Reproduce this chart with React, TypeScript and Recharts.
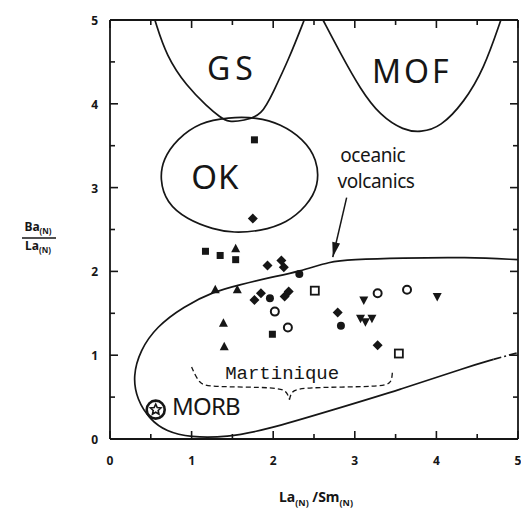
import { ComposedChart, XAxis, YAxis, Line, Scatter, ReferenceDot } from 'recharts'

const INK = '#161616'
const SANS = '"Noto Sans", "DejaVu Sans", sans-serif'

const X_DOMAIN = [0, 5]
const Y_DOMAIN = [0, 5]
const TICKS = [0, 0.5, 1, 1.5, 2, 2.5, 3, 3.5, 4, 4.5, 5]

// field outlines (La/Sm, Ba/La)
const GS_FIELD = [
  { x: 0.55, y: 5.0 }, { x: 0.69, y: 4.57 }, { x: 0.94, y: 4.21 }, { x: 1.19, y: 3.97 },
  { x: 1.35, y: 3.84 }, { x: 1.45, y: 3.78 }, { x: 1.64, y: 3.8 }, { x: 1.86, y: 3.86 },
  { x: 2.0, y: 4.14 }, { x: 2.19, y: 4.53 }, { x: 2.38, y: 5.0 },
]
const MOF_FIELD = [
  { x: 2.61, y: 5.0 }, { x: 2.82, y: 4.61 }, { x: 3.07, y: 4.17 }, { x: 3.31, y: 3.86 },
  { x: 3.6, y: 3.68 }, { x: 3.81, y: 3.66 }, { x: 4.05, y: 3.72 }, { x: 4.34, y: 4.02 },
  { x: 4.58, y: 4.41 }, { x: 4.79, y: 5.0 },
]
const OK_FIELD = [
  { x: 1.45, y: 3.84 }, { x: 1.1, y: 3.78 }, { x: 0.82, y: 3.58 }, { x: 0.65, y: 3.34 },
  { x: 0.61, y: 3.1 }, { x: 0.69, y: 2.82 }, { x: 0.94, y: 2.62 }, { x: 1.27, y: 2.5 },
  { x: 1.51, y: 2.46 }, { x: 1.84, y: 2.48 }, { x: 2.17, y: 2.58 }, { x: 2.41, y: 2.78 },
  { x: 2.56, y: 3.02 }, { x: 2.54, y: 3.34 }, { x: 2.37, y: 3.58 }, { x: 2.09, y: 3.76 },
  { x: 1.8, y: 3.84 },
]
const OCEANIC_FIELD = [
  { x: 5.0, y: 2.14 }, { x: 4.38, y: 2.17 }, { x: 3.56, y: 2.16 }, { x: 2.95, y: 2.14 },
  { x: 2.7, y: 2.12 }, { x: 2.33, y: 2.0 }, { x: 1.92, y: 1.92 }, { x: 1.59, y: 1.84 },
  { x: 1.27, y: 1.76 }, { x: 0.9, y: 1.58 }, { x: 0.57, y: 1.34 }, { x: 0.37, y: 1.06 },
  { x: 0.28, y: 0.75 }, { x: 0.33, y: 0.47 }, { x: 0.49, y: 0.23 }, { x: 0.69, y: 0.09 },
  { x: 0.98, y: 0.02 }, { x: 1.43, y: 0.02 }, { x: 1.92, y: 0.11 }, { x: 2.74, y: 0.35 },
  { x: 3.56, y: 0.59 }, { x: 4.38, y: 0.86 }, { x: 4.7, y: 0.95 },
]
const OCEANIC_TAIL = [{ x: 4.7, y: 0.95 }, { x: 5.0, y: 1.03 }]
const ARROW = [{ x: 2.9, y: 2.88 }, { x: 2.73, y: 2.17 }]
const BRACE_LEFT = [
  { x: 1.0, y: 0.86 }, { x: 1.09, y: 0.66 }, { x: 1.22, y: 0.62 }, { x: 2.08, y: 0.62 },
  { x: 2.17, y: 0.56 }, { x: 2.2, y: 0.47 },
]
const BRACE_RIGHT = [
  { x: 2.2, y: 0.47 }, { x: 2.22, y: 0.56 }, { x: 2.32, y: 0.62 }, { x: 3.37, y: 0.62 },
  { x: 3.45, y: 0.68 }, { x: 3.46, y: 0.79 },
]

// samples
const FILLED_SQUARES = [
  { x: 1.77, y: 3.57 }, { x: 1.17, y: 2.24 }, { x: 1.35, y: 2.19 }, { x: 1.54, y: 2.14 },
  { x: 1.99, y: 1.25 },
]
const FILLED_DIAMONDS = [
  { x: 1.75, y: 2.63 }, { x: 1.93, y: 2.07 }, { x: 2.1, y: 2.13 }, { x: 2.13, y: 2.05 },
  { x: 1.77, y: 1.66 }, { x: 1.85, y: 1.74 }, { x: 2.14, y: 1.7 }, { x: 2.19, y: 1.76 },
  { x: 2.79, y: 1.51 }, { x: 3.28, y: 1.12 },
]
const FILLED_CIRCLES = [
  { x: 2.32, y: 1.97 }, { x: 1.96, y: 1.68 }, { x: 2.83, y: 1.35 },
]
const FILLED_TRIANGLES = [
  { x: 1.54, y: 2.27 }, { x: 1.29, y: 1.78 }, { x: 1.56, y: 1.78 }, { x: 1.39, y: 1.38 },
  { x: 1.4, y: 1.1 },
]
const DOWN_TRIANGLES = [
  { x: 3.11, y: 1.66 }, { x: 3.07, y: 1.44 }, { x: 3.21, y: 1.44 }, { x: 3.13, y: 1.4 },
  { x: 4.01, y: 1.7 },
]
const OPEN_CIRCLES = [
  { x: 2.02, y: 1.52 }, { x: 2.18, y: 1.33 }, { x: 3.28, y: 1.74 }, { x: 3.64, y: 1.78 },
]
const OPEN_SQUARES = [{ x: 2.51, y: 1.77 }, { x: 3.54, y: 1.02 }]
const MORB = [{ x: 0.56, y: 0.35 }]

const LABELS = [
  { x: 1.5, y: 4.43, text: 'GS', size: 32, spacing: 5 },
  { x: 3.7, y: 4.4, text: 'MOF', size: 32, spacing: 3 },
  { x: 1.29, y: 3.13, text: 'OK', size: 33, spacing: 1 },
  { x: 3.22, y: 3.39, text: 'oceanic', size: 19, spacing: -0.4 },
  { x: 3.26, y: 3.08, text: 'volcanics', size: 19, spacing: -0.4 },
]

// frame and tick positions, derived from the axis domains and tick list
const FRAME_TOP = X_DOMAIN.map((x) => ({ x, y: Y_DOMAIN[1] }))
const FRAME_RIGHT = Y_DOMAIN.map((y) => ({ x: X_DOMAIN[1], y }))
const MAJOR = TICKS.filter((t) => Number.isInteger(t))
const MINOR = TICKS.filter((t) => !Number.isInteger(t))
const SIDES = [
  { id: 'b', dx: 0, dy: -1, at: (t: number) => ({ x: t, y: Y_DOMAIN[0] }) },
  { id: 't', dx: 0, dy: 1, at: (t: number) => ({ x: t, y: Y_DOMAIN[1] }) },
  { id: 'l', dx: 1, dy: 0, at: (t: number) => ({ x: X_DOMAIN[0], y: t }) },
  { id: 'r', dx: -1, dy: 0, at: (t: number) => ({ x: X_DOMAIN[1], y: t }) },
]

const tickShape = (dx: number, dy: number, len: number) => (p: any) => (
  <line x1={p.cx} y1={p.cy} x2={p.cx + dx * len} y2={p.cy + dy * len} stroke={INK} strokeWidth={1.6} />
)

const sq = (p: any) => <rect x={p.cx - 3.5} y={p.cy - 3.5} width={7} height={7} fill={INK} />
const diamond = (p: any) => (
  <polygon points={`${p.cx},${p.cy - 5} ${p.cx + 5},${p.cy} ${p.cx},${p.cy + 5} ${p.cx - 5},${p.cy}`} fill={INK} />
)
const dotShape = (p: any) => <circle cx={p.cx} cy={p.cy} r={4} fill={INK} />
const triUp = (p: any) => (
  <polygon points={`${p.cx},${p.cy - 5} ${p.cx + 4.5},${p.cy + 3.5} ${p.cx - 4.5},${p.cy + 3.5}`} fill={INK} />
)
const triDown = (p: any) => (
  <polygon points={`${p.cx - 4.5},${p.cy - 3.5} ${p.cx + 4.5},${p.cy - 3.5} ${p.cx},${p.cy + 5}`} fill={INK} />
)
const ring = (p: any) => <circle cx={p.cx} cy={p.cy} r={4} fill="#fff" stroke={INK} strokeWidth={2} />
const box = (p: any) => (
  <rect x={p.cx - 4} y={p.cy - 4} width={8} height={8} fill="#fff" stroke={INK} strokeWidth={1.8} />
)
const starRing = (p: any) => {
  const pts = []
  for (let i = 0; i < 10; i++) {
    const a = -Math.PI / 2 + (i * Math.PI) / 5
    const r = i % 2 === 0 ? 5.5 : 2.6
    pts.push(`${p.cx + r * Math.cos(a)},${p.cy + r * Math.sin(a)}`)
  }
  return (
    <g>
      <circle cx={p.cx} cy={p.cy} r={9} fill="#fff" stroke={INK} strokeWidth={2.6} />
      <polygon points={pts.join(' ')} fill="#fff" stroke={INK} strokeWidth={1.6} />
    </g>
  )
}

const xTick = (p: any) =>
  Number.isInteger(p.payload.value) ? (
    <text x={p.x} y={p.y + 24} textAnchor="middle" fontSize={12} fontWeight="bold" fontFamily={SANS} fill={INK}>
      {p.payload.value}
    </text>
  ) : (
    <g />
  )

const yTick = (p: any) =>
  Number.isInteger(p.payload.value) ? (
    <text x={p.x - 10} y={p.y + 5} textAnchor="end" fontSize={12} fontWeight="bold" fontFamily={SANS} fill={INK}>
      {p.payload.value}
    </text>
  ) : (
    <g />
  )

const arrowDot = (p: any) => {
  if (p.index !== 1 || !p.points) return <g key={`ad${p.index}`} />
  const a = p.points[0]
  const ang = Math.atan2(p.cy - a.y, p.cx - a.x)
  const back = 15
  const half = 4
  const bx = p.cx - back * Math.cos(ang)
  const by = p.cy - back * Math.sin(ang)
  const nx = -Math.sin(ang) * half
  const ny = Math.cos(ang) * half
  return (
    <polygon key="ad1" points={`${p.cx},${p.cy} ${bx + nx},${by + ny} ${bx - nx},${by - ny}`} fill={INK} />
  )
}

const xLabel = () => (
  <text x={316} y={502} textAnchor="middle" fontSize={14} fontWeight="bold" fontFamily={SANS} fill={INK}>
    La<tspan fontSize={9} dy={4}>(N)</tspan>
    <tspan dy={-4}> /Sm</tspan>
    <tspan fontSize={9} dy={4}>(N)</tspan>
  </text>
)

const yLabel = () => (
  <g fontFamily={SANS} fontWeight="bold" fill={INK}>
    <text x={38} y={231} textAnchor="middle" fontSize={12}>
      Ba<tspan fontSize={8} dy={3}>(N)</tspan>
    </text>
    <line x1={22} y1={238} x2={56} y2={238} stroke={INK} strokeWidth={1.4} />
    <text x={38} y={250} textAnchor="middle" fontSize={12}>
      La<tspan fontSize={8} dy={3}>(N)</tspan>
    </text>
  </g>
)

const curve = { stroke: INK, strokeWidth: 1.7, dot: false, activeDot: false, isAnimationActive: false, dataKey: 'y' }

export default function App() {
  return (
    <div style={{ position: 'absolute', left: 0, top: 0, background: '#fff' }}>
      <ComposedChart width={521} height={508} margin={{ top: 20, right: 3, bottom: 0, left: 0 }}>
        <XAxis
          type="number" dataKey="x" domain={X_DOMAIN} ticks={TICKS}
          height={69} tickSize={0} tickLine={false} interval={0}
          axisLine={{ stroke: INK, strokeWidth: 1.8 }}
          tick={xTick}
          label={{ content: xLabel }}
        />
        <YAxis
          type="number" dataKey="y" domain={Y_DOMAIN} ticks={TICKS}
          width={110} tickSize={0} tickLine={false} interval={0}
          axisLine={{ stroke: INK, strokeWidth: 1.8 }}
          tick={yTick}
          label={{ content: yLabel }}
        />

        <Line data={FRAME_TOP} type="linear" {...curve} strokeWidth={1.8} />
        <Line data={FRAME_RIGHT} type="linear" {...curve} strokeWidth={1.8} />

        <Line data={GS_FIELD} type="basis" {...curve} />
        <Line data={MOF_FIELD} type="basis" {...curve} />
        <Line data={OK_FIELD} type="basisClosed" {...curve} />
        <Line data={OCEANIC_FIELD} type="basis" {...curve} />
        <Line data={OCEANIC_TAIL} type="linear" {...curve} strokeDasharray="8 3 2 3" />
        <Line data={ARROW} type="linear" {...curve} strokeWidth={1.5} dot={arrowDot} />
        <Line data={BRACE_LEFT} type="basis" {...curve} strokeWidth={1.3} strokeDasharray="5 3" />
        <Line data={BRACE_RIGHT} type="basis" {...curve} strokeWidth={1.3} strokeDasharray="5 3" />

        {SIDES.map((s) => (
          <Scatter key={`M${s.id}`} data={MAJOR.map(s.at)} shape={tickShape(s.dx, s.dy, 8)} isAnimationActive={false} />
        ))}
        {SIDES.map((s) => (
          <Scatter key={`m${s.id}`} data={MINOR.map(s.at)} shape={tickShape(s.dx, s.dy, 5)} isAnimationActive={false} />
        ))}

        <Scatter data={FILLED_SQUARES} shape={sq} isAnimationActive={false} />
        <Scatter data={FILLED_DIAMONDS} shape={diamond} isAnimationActive={false} />
        <Scatter data={FILLED_CIRCLES} shape={dotShape} isAnimationActive={false} />
        <Scatter data={FILLED_TRIANGLES} shape={triUp} isAnimationActive={false} />
        <Scatter data={DOWN_TRIANGLES} shape={triDown} isAnimationActive={false} />
        <Scatter data={OPEN_CIRCLES} shape={ring} isAnimationActive={false} />
        <Scatter data={OPEN_SQUARES} shape={box} isAnimationActive={false} />
        <Scatter data={MORB} shape={starRing} isAnimationActive={false} />

        {LABELS.map((l) => (
          <ReferenceDot
            key={l.text} x={l.x} y={l.y} r={0} ifOverflow="visible"
            shape={(p: any) => (
              <text x={p.cx} y={p.cy} textAnchor="middle" dominantBaseline="central" fontSize={l.size}
                letterSpacing={l.spacing} fontFamily={SANS} fill={INK}>
                {l.text}
              </text>
            )}
          />
        ))}
        <ReferenceDot
          x={0.76} y={0.4} r={0} ifOverflow="visible"
          shape={(p: any) => (
            <text x={p.cx} y={p.cy} dominantBaseline="central" fontSize={24} letterSpacing={-0.8}
              fontFamily={SANS} fill={INK}>
              MORB
            </text>
          )}
        />
        <ReferenceDot
          x={2.11} y={0.77} r={0} ifOverflow="visible"
          shape={(p: any) => (
            <text x={p.cx} y={p.cy} textAnchor="middle" dominantBaseline="central" fontSize={19}
              fontFamily='"Liberation Mono", "DejaVu Sans Mono", monospace' fill={INK}>
              Martinique
            </text>
          )}
        />
      </ComposedChart>
    </div>
  )
}
